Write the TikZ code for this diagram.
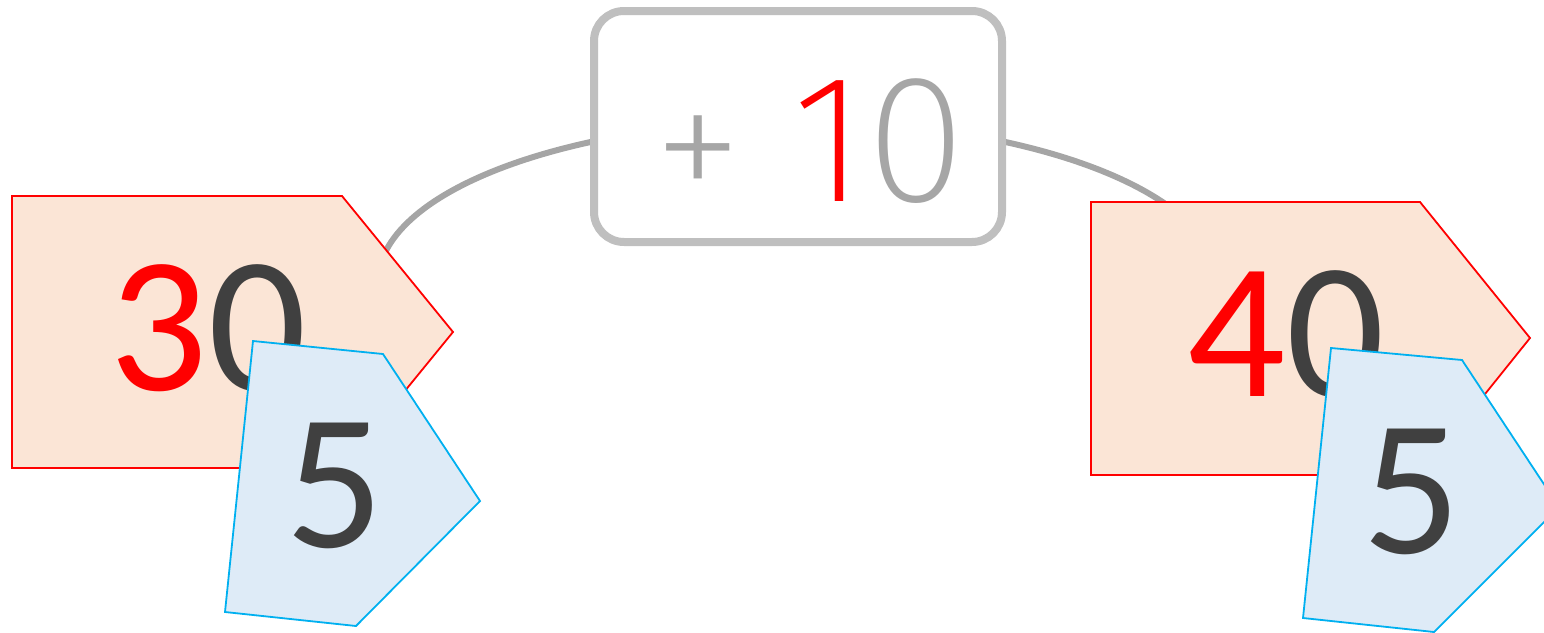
\documentclass[tikz,border=0pt]{standalone}
\usepackage{fontspec}
\setmainfont{Carlito}
\IfFontExistsTF{Fira Sans ExtraLight}{\newfontfamily\thinfont{Fira Sans ExtraLight}}{%
  \IfFontExistsTF{Fira Sans Light}{\newfontfamily\thinfont{Fira Sans Light}}{\newfontfamily\thinfont{Fira Sans}}}
\definecolor{tagfill}{HTML}{FBE5D6}
\definecolor{tagline}{HTML}{FF0000}
\definecolor{bluefill}{HTML}{DEEBF7}
\definecolor{blueline}{HTML}{00B0F0}
\definecolor{darktext}{HTML}{404040}
\definecolor{boxline}{HTML}{BFBFBF}
\definecolor{arcgray}{HTML}{A5A5A5}
\definecolor{plusgray}{HTML}{A6A6A6}
\tikzset{
  arcline/.style={draw=arcgray, line width=6pt},
  opbox/.style={draw=boxline, line width=8pt, fill=white, rounded corners=30pt,
    minimum width=408pt, minimum height=231pt, inner sep=0pt},
  redtag/.style={draw=tagline, fill=tagfill, line width=1.8pt, line join=miter},
  bluetag/.style={draw=blueline, fill=bluefill, line width=1.8pt, line join=miter},
  numtext/.style={inner sep=0pt, text=darktext, font=\fontsize{194}{200}\selectfont},
  optext/.style={inner sep=0pt, font=\thinfont\fontsize{182}{186}\selectfont}
}
\begin{document}
\begin{tikzpicture}[x=1pt,y=1pt]
\useasboundingbox (0,0) rectangle (1544,-632);
\clip (0,0) rectangle (1544,-632);
% connector arc
\coordinate (arcC) at (798,-282);
\draw[arcline] (arcC) ++(170:420 and 161) arc[start angle=170, end angle=27, x radius=420, y radius=161];
% operation box
\node[opbox] (op) at (798,-126.5) {};
\node[optext, anchor=center] (optxt) at (810,-143) {\textcolor{plusgray}{\raisebox{-6pt}{+}}\hspace{50pt}\textcolor{red}{1}\textcolor{plusgray}{0}};
% left tag
\draw[redtag] (12,-196) -- (342,-196) -- (453,-332) -- (342,-468) -- (12,-468) -- cycle;
\node[numtext] (n30) at (208,-328) {\textcolor{red}{3}0};
\draw[bluetag] (253,-341) -- (383,-354) -- (480,-501) -- (356,-626) -- (225,-612) -- cycle;
\node[numtext] (n5a) at (335,-486) {5};
% right tag
\draw[redtag] (1091,-202) -- (1420,-202) -- (1530,-338) -- (1420,-475) -- (1091,-475) -- cycle;
\node[numtext] (n40) at (1286,-334) {\textcolor{red}{4}0};
\draw[bluetag] (1331,-348) -- (1462,-360) -- (1559,-507) -- (1434,-632) -- (1303,-618) -- cycle;
\node[numtext] (n5b) at (1412,-492) {5};
\end{tikzpicture}
\end{document}
